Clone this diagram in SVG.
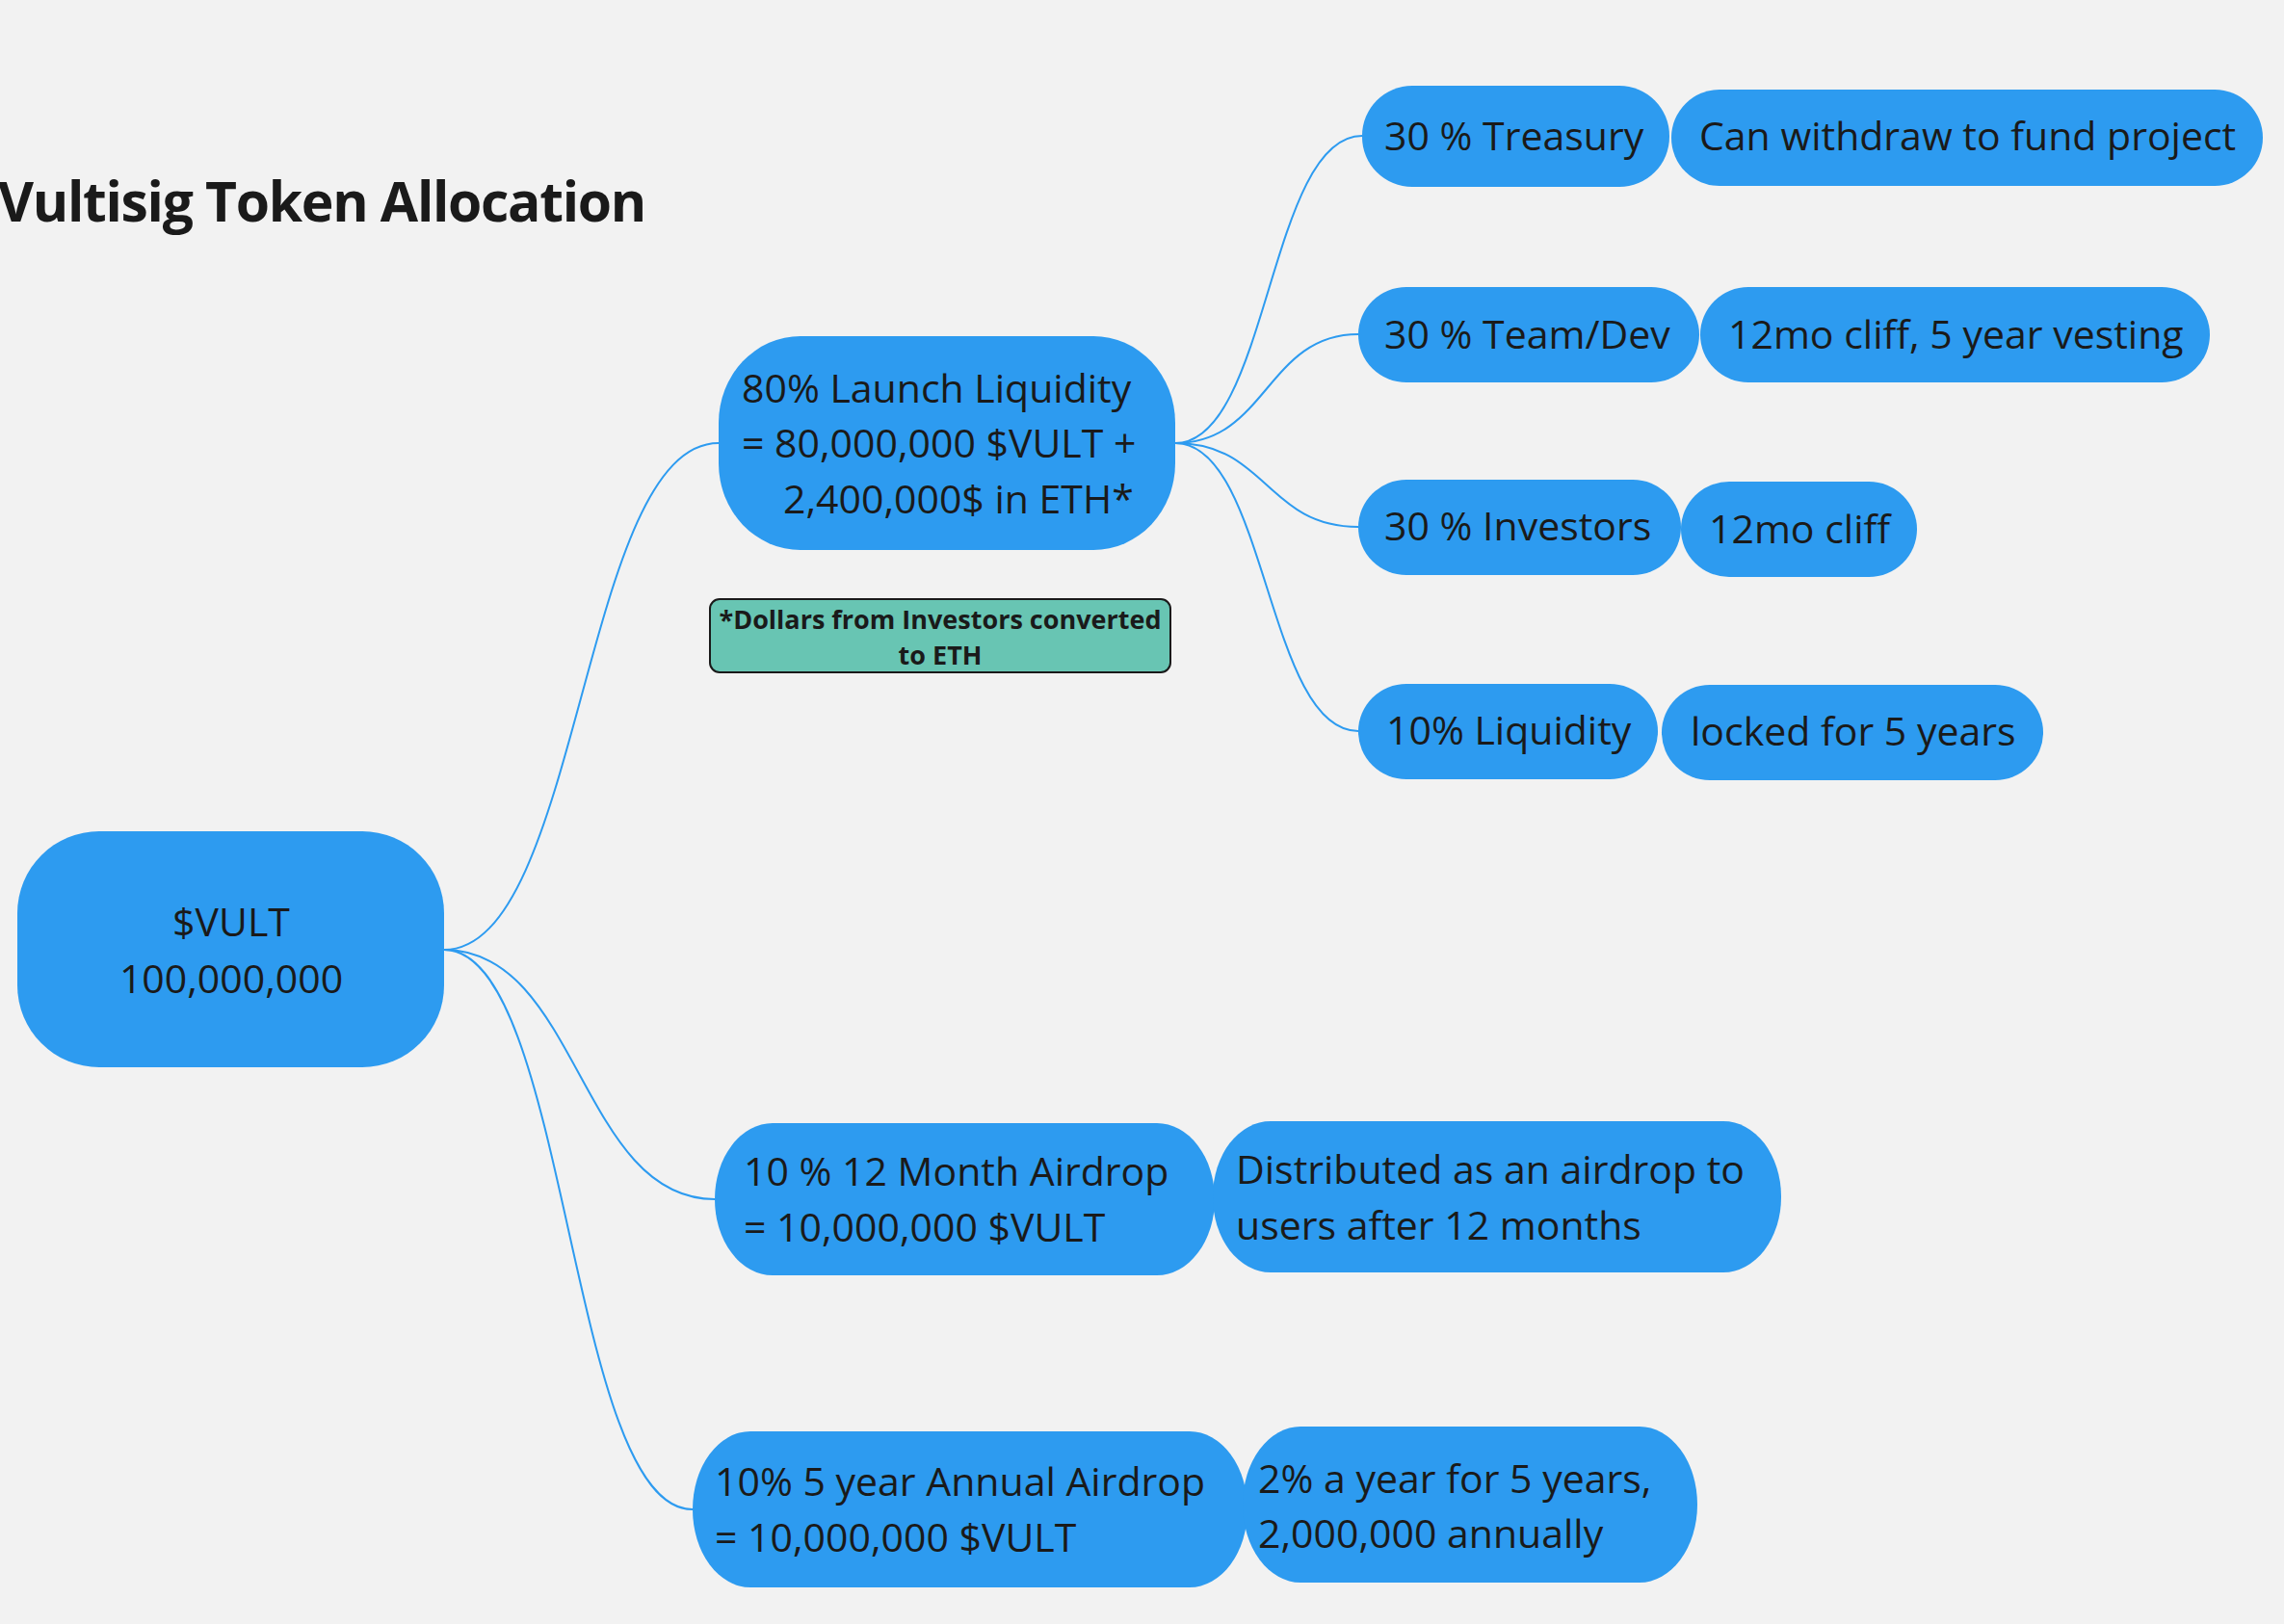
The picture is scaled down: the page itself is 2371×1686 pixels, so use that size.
<svg xmlns="http://www.w3.org/2000/svg" width="2371" height="1686" viewBox="0 0 2371 1686">
<style>
.bg{fill:#f2f2f2}
.n{fill:#2d9bf0}
.note{fill:#68c5b3;stroke:#1a1a1a;stroke-width:2}
.t{font-family:"Open Sans","Liberation Sans",sans-serif;font-size:41px;fill:#1a1a1a}
.c{text-anchor:middle}
.nt{font-family:"Open Sans","Liberation Sans",sans-serif;font-size:27px;font-weight:bold;fill:#1a1a1a;text-anchor:middle}
.title{font-family:"Open Sans","Liberation Sans",sans-serif;font-size:57px;font-weight:bold;fill:#1a1a1a;letter-spacing:-1.3px}
.e{fill:none;stroke:#2d9bf0;stroke-width:2}
</style>
<rect class="bg" x="0" y="0" width="2371" height="1686"/>
<text class="title" x="-2" y="230">Vultisig Token Allocation</text>
<g id="connectors">
<path class="e" d="M461,986 C603,986 604,460 746,460"/>
<path class="e" d="M461,986 C601,986 602,1245 742,1245"/>
<path class="e" d="M461,986 C590,986 590,1567 719,1567"/>
<path class="e" d="M1220,460 C1317,460 1317,141 1414,141"/>
<path class="e" d="M1220,460 C1315,460 1315,347 1410,347"/>
<path class="e" d="M1220,460 C1315,460 1315,547 1410,547"/>
<path class="e" d="M1220,460 C1315,460 1315,759 1410,759"/>
</g>
<g id="root">
<rect class="n" x="18" y="863" width="443" height="245" rx="85" ry="85"/>
<text class="t c" x="240" y="972">$VULT</text>
<text class="t c" x="240" y="1031">100,000,000</text>
</g>
<g id="launch">
<rect class="n" x="746" y="349" width="474" height="222" rx="85" ry="90"/>
<text class="t" x="770" y="418">80% Launch Liquidity</text>
<text class="t" x="770" y="475">= 80,000,000 $VULT +</text>
<text class="t" x="813" y="533">2,400,000$ in ETH*</text>
</g>
<g id="note">
<rect class="note" x="737" y="622" width="478" height="76" rx="10"/>
<text class="nt" x="976" y="653">*Dollars from Investors converted</text>
<text class="nt" x="976" y="690">to ETH</text>
</g>
<g id="treasury">
<rect class="n" x="1414" y="89" width="319" height="105" rx="52"/>
<text class="t" x="1437" y="156">30 % Treasury</text>
</g>
<g id="treasury-note">
<rect class="n" x="1735" y="93" width="614" height="100" rx="50"/>
<text class="t" x="1764" y="156">Can withdraw to fund project</text>
</g>
<g id="team">
<rect class="n" x="1410" y="298" width="354" height="99" rx="50"/>
<text class="t" x="1437" y="362">30 % Team/Dev</text>
</g>
<g id="team-note">
<rect class="n" x="1765" y="298" width="529" height="99" rx="50"/>
<text class="t" x="1794" y="362">12mo cliff, 5 year vesting</text>
</g>
<g id="investors">
<rect class="n" x="1410" y="498" width="335" height="99" rx="50"/>
<text class="t" x="1437" y="561">30 % Investors</text>
</g>
<g id="investors-note">
<rect class="n" x="1745" y="500" width="245" height="99" rx="50"/>
<text class="t" x="1774" y="564">12mo cliff</text>
</g>
<g id="liquidity">
<rect class="n" x="1410" y="710" width="311" height="99" rx="50"/>
<text class="t" x="1439" y="773">10% Liquidity</text>
</g>
<g id="liquidity-note">
<rect class="n" x="1725" y="711" width="396" height="99" rx="50"/>
<text class="t" x="1755" y="774">locked for 5 years</text>
</g>
<g id="airdrop12">
<rect class="n" x="742" y="1166" width="519" height="158" rx="60" ry="79"/>
<text class="t" x="772" y="1231">10 % 12 Month Airdrop</text>
<text class="t" x="772" y="1289">= 10,000,000 $VULT</text>
</g>
<g id="airdrop12-note">
<rect class="n" x="1259" y="1164" width="590" height="157" rx="60" ry="78"/>
<text class="t" x="1283" y="1229">Distributed as an airdrop to</text>
<text class="t" x="1283" y="1287">users after 12 months</text>
</g>
<g id="airdrop5">
<rect class="n" x="719" y="1486" width="576" height="162" rx="60" ry="81"/>
<text class="t" x="742" y="1553">10% 5 year Annual Airdrop</text>
<text class="t" x="742" y="1611">= 10,000,000 $VULT</text>
</g>
<g id="airdrop5-note">
<rect class="n" x="1290" y="1481" width="472" height="162" rx="60" ry="81"/>
<text class="t" x="1306" y="1550">2% a year for 5 years,</text>
<text class="t" x="1306" y="1607">2,000,000 annually</text>
</g>
</svg>
